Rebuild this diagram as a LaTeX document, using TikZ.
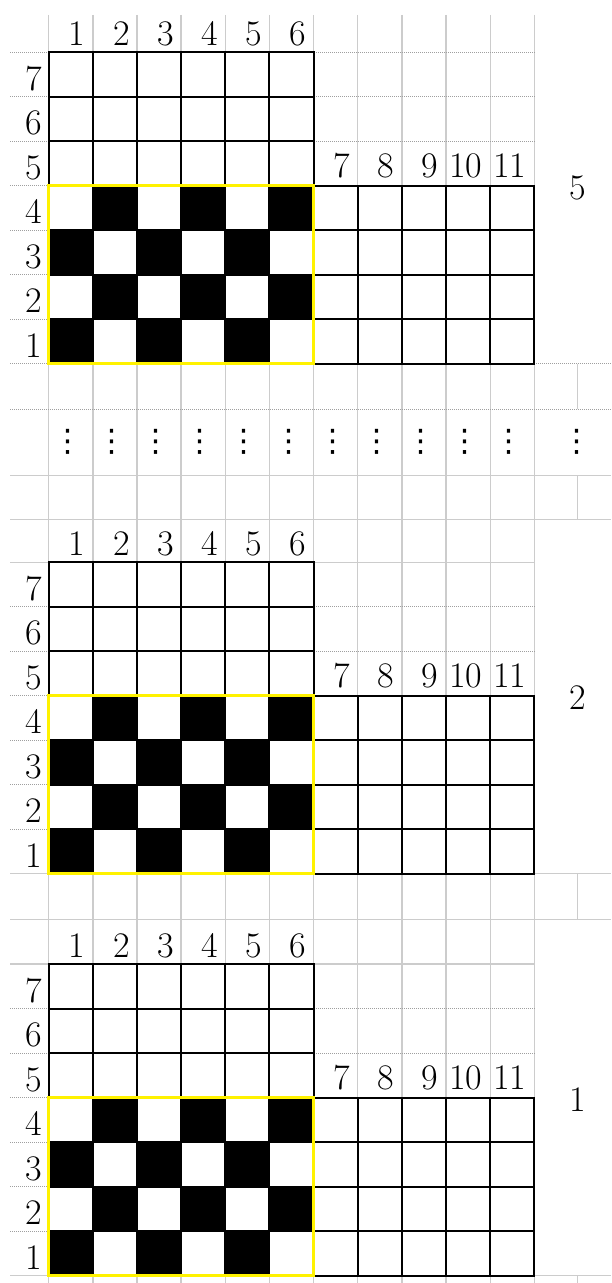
\documentclass[tikz,border=0pt]{standalone}
\usepackage{fontspec}
\newfontfamily\dvfont{DejaVu Sans}
\newcommand\weaveblock[6]{%
  % #1 header top, #2 top of row 7, #3 side label, #4 name prefix, #5 top line style, #6 bottom line style
  \foreach \k in {0,...,6}{\draw[gridg] ({48.7+44.15*\k},#1) -- ({48.7+44.15*\k},#2);}
  \foreach \k in {7,...,11}{\draw[gridg] ({48.7+44.15*\k},#1) -- ({48.7+44.15*\k},{#2+133.5});}
  \draw[#5] (10,#2) -- (534.35,#2);
  \foreach \j in {1,2}{\draw[gridd] (10,{#2+44.5*\j}) -- (534.35,{#2+44.5*\j});}
  \foreach \j in {3,...,6}{\draw[gridd] (10,{#2+44.5*\j}) -- (48.7,{#2+44.5*\j});}
  \draw[#6] (10,{#2+311.5}) -- (48.7,{#2+311.5});
  \draw[#6] (534.35,{#2+311.5}) -- (611,{#2+311.5});
  \foreach \j/\s in {3/1,4/0,5/1,6/0}{
    \foreach \m in {0,2,4}{
      \fill[black] ({48.7+44.15*(\m+\s)},{#2+44.5*\j}) rectangle ++(44.15,44.5);
    }
  }
  \foreach \k in {0,...,6}{\draw[blk] ({48.7+44.15*\k},#2) -- ({48.7+44.15*\k},{#2+311.5});}
  \foreach \j in {0,...,7}{\draw[blk] (48.7,{#2+44.5*\j}) -- (313.6,{#2+44.5*\j});}
  \foreach \k in {7,...,11}{\draw[blk] ({48.7+44.15*\k},{#2+133.5}) -- ({48.7+44.15*\k},{#2+311.5});}
  \foreach \j in {3,...,7}{\draw[blk] (313.6,{#2+44.5*\j}) -- (534.35,{#2+44.5*\j});}
  \draw[ylw] (48.7,{#2+133.5}) rectangle (313.6,{#2+311.5});
  \foreach \k in {1,...,6}{\node[lab] (#4h\k) at ({48.7+44.15*\k-7},{#2-6.5}) {\k};}
  \foreach \j in {1,...,7}{\pgfmathtruncatemacro\rl{8-\j}\node[lab] (#4r\rl) at (42.7,{#2+44.5*\j-6.5}) {\rl};}
  \foreach \k in {7,...,11}{\node[lab] (#4h\k) at ({48.7+44.15*\k-7.5},{#2+125}) {\k};}
  \node[side] (#4s) at (578,{#2+147.7}) {#3};
}
\begin{document}
\begin{tikzpicture}[x=0.5pt,y=-0.5pt,
  gridg/.style={draw=gray!40, line width=0.7pt},
  gridd/.style={draw=gray!75, line width=0.5pt, dash pattern=on 0.5pt off 0.5pt},
  blk/.style={draw=black, line width=1pt, line cap=rect},
  ylw/.style={draw=yellow, line width=1.6pt},
  lab/.style={font=\fontsize{18}{18}\selectfont, inner sep=0pt, anchor=base east},
  side/.style={font=\fontsize{18}{18}\selectfont, inner sep=0pt, anchor=base},
  vd/.style={font=\dvfont\fontsize{15.5}{15.5}\selectfont, inner sep=0pt, anchor=base}]
\useasboundingbox (0,0) rectangle (611,1283);
\fill[white] (0,0) rectangle (611,1283);
% gap between block 1 and block 2
\foreach \k in {0,...,11}{\draw[gridg] ({48.7+44.15*\k},363.8) -- ({48.7+44.15*\k},519.3);}
\draw[gridg] (577.7,363.8) -- (577.7,409.3);
\draw[gridg] (577.7,475.7) -- (577.7,519.3);
\draw[gridd] (10,409.3) -- (611,409.3);
\draw[gridg] (10,475.7) -- (611,475.7);
\draw[gridg] (10,519.3) -- (611,519.3);
% gap between block 2 and block 3
\foreach \k in {0,...,11}{\draw[gridg] ({48.7+44.15*\k},873.7) -- ({48.7+44.15*\k},919.3);}
\draw[gridg] (577.7,873.7) -- (577.7,919.3);
\draw[gridg] (10,919.3) -- (611,919.3);
% below block 3
\foreach \k in {0,...,11}{\draw[gridg] ({48.7+44.15*\k},1275.5) -- ({48.7+44.15*\k},1283);}
\draw[gridg] (577.7,1275.5) -- (577.7,1283);
% blocks
\weaveblock{15}{52.3}{5}{a}{gridd}{gridd}
\weaveblock{519.3}{562.2}{2}{b}{gridg}{gridg}
\weaveblock{919.3}{964}{1}{c}{gridg}{gridg}
% vertical ellipsis row
\foreach \k in {1,...,11}{\node[vd] (d\k) at ({48.7+44.15*\k-25.1},451.5) {⋮};}
\node[vd] (d12) at (576.7,451.5) {⋮};
\end{tikzpicture}
\end{document}
